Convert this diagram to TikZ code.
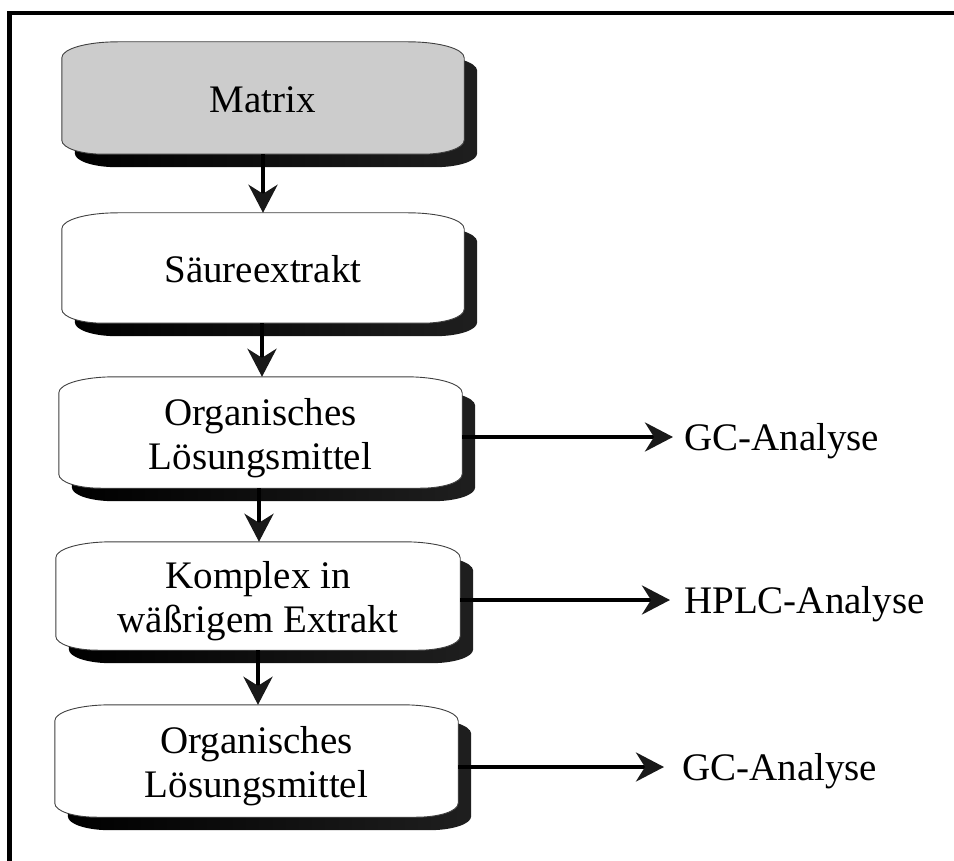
\documentclass[tikz,border=0pt]{standalone}
\usepackage{fontspec}
\setmainfont{Liberation Serif}
\usetikzlibrary{arrows.meta,calc}
\pgfdeclarelayer{background}
\pgfsetlayers{background,main}
\tikzset{
  stage/.style={inner sep=0pt, align=center, text height=36pt, text depth=7pt,
    font=\fontsize{39}{44}\selectfont},
  stagetwo/.style={stage, text height=80pt},
  result/.style={inner sep=0pt, anchor=west, text height=26pt, text depth=0pt,
    font=\fontsize{39}{44}\selectfont},
  flow/.style={line width=4pt, draw=black,
    -{Stealth[length=28pt,width=29pt,inset=9pt,fill=black!90,color=black!90]}},
  stageshadow/.style={left color=black, right color=black!88},
  stageface/.style={draw=black!75, line width=0.9pt},
}
% outline of a stage box (flat edges, wide elliptical corners), moved by #3
\newcommand\stageshape[3]{%
  \path[#2] let \p1=($(#1.north west)+(#3)$), \p2=($(#1.south east)+(#3)$) in
    (\x1,\y1-16pt) .. controls (\x1,\y1-7pt) and (\x1+25pt,\y1) .. (\x1+56pt,\y1)
    -- (\x2-56pt,\y1) .. controls (\x2-25pt,\y1) and (\x2,\y1-7pt) .. (\x2,\y1-16pt)
    -- (\x2,\y2+14pt) .. controls (\x2,\y2+6pt) and (\x2-19pt,\y2) .. (\x2-42pt,\y2)
    -- (\x1+42pt,\y2) .. controls (\x1+19pt,\y2) and (\x1,\y2+6pt) .. (\x1,\y2+14pt)
    -- cycle;}
\newcommand\stagebox[2]{%
  \stageshape{#1}{stageshadow}{13pt,-13pt}%
  \stageshape{#1}{stageface, fill=#2}{0pt,0pt}}
\begin{document}
\begin{tikzpicture}[x=1pt,y=-1pt]
  \useasboundingbox (0,0) rectangle (954,861);

  % frame
  \draw[line width=4.5pt] (954,13) -- (9.5,13) -- (9.5,861);

  % stages
  \node[stage, minimum width=402pt, minimum height=112pt] (matrix) at (263,98) {Matrix};
  \node[stage, minimum width=402pt, minimum height=110pt] (saeure) at (263,268) {Säureextrakt};
  \node[stagetwo, minimum width=403pt, minimum height=111pt] (org1) at (260.5,432.5) {Organisches\\Lösungsmittel};
  \node[stagetwo, minimum width=404pt, minimum height=108pt] (komplex) at (258,596) {Komplex in\\wäßrigem Extrakt};
  \node[stagetwo, minimum width=403pt, minimum height=112pt] (org2) at (256.5,761) {Organisches\\Lösungsmittel};

  \begin{pgfonlayer}{background}
    \stagebox{matrix}{black!20}
    \stagebox{saeure}{white}
    \stagebox{org1}{white}
    \stagebox{komplex}{white}
    \stagebox{org2}{white}
  \end{pgfonlayer}

  % analyses
  \node[result] (gc1) at (684,437) {GC-Analyse};
  \node[result] (hplc) at (684,600) {HPLC-Analyse};
  \node[result] (gc2) at (682,767) {GC-Analyse};

  % connectors
  \draw[flow] (matrix.south) -- (matrix.south |- saeure.north);
  \draw[flow] ([xshift=-1pt]saeure.south) -- ([xshift=-1pt]saeure.south |- org1.north);
  \draw[flow] ([xshift=-1.5pt]org1.south) -- ([xshift=-1.5pt]org1.south |- komplex.north);
  \draw[flow] (komplex.south) -- (komplex.south |- org2.north);
  \draw[flow] (org1.east |- gc1.west) -- ([xshift=-11pt]gc1.west);
  \draw[flow] (komplex.east |- hplc.west) -- ([xshift=-14pt]hplc.west);
  \draw[flow] (org2.east |- gc2.west) -- ([xshift=-18pt]gc2.west);
\end{tikzpicture}
\end{document}
